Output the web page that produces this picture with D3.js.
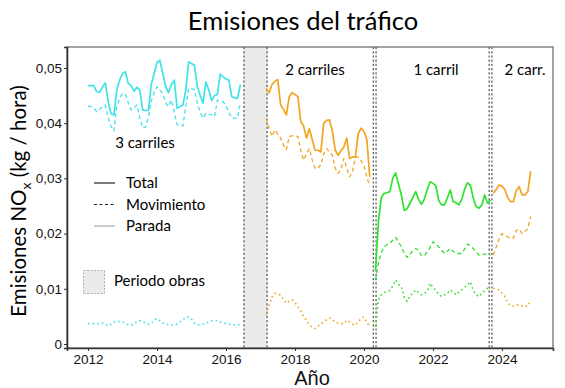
<!DOCTYPE html>
<html>
<head>
<meta charset="utf-8">
<script src="https://cdn.jsdelivr.net/npm/d3@7"></script>
<style>
  body { margin: 0; background: #fff; }
  svg { display: block; }
</style>
</head>
<body>
<svg id="chart" width="565" height="388"></svg>
<script>
// ---- data (monthly values, kg/hora) ----
var periodLabels = ["3 carriles", "2 carriles", "1 carril", "2 carr."];
var periodStart = [[2012, 1], [2017, 3], [2020, 5], [2023, 10]]; // year, month of first value

var total3 = [.0468, .0468, .0468, .0457, .0456, .0465, .0473, .0440, .0417, .0415, .0460, .0478,
  .0490, .0493, .0472, .0468, .0458, .0465, .0460, .0424, .0423, .0423, .0470, .0490,
  .0510, .0514, .0490, .0467, .0455, .0470, .0478, .0427, .0430, .0433, .0460, .0511,
  .0508, .0505, .0467, .0450, .0436, .0475, .0460, .0441, .0450, .0452, .0489, .0484,
  .0480, .0478, .0448, .0446, .0445, .0470];
var mov3 = [.0431, .0430, .0428, .0421, .0425, .0430, .0433, .0410, .0394, .0386, .0430, .0445,
  .0454, .0452, .0437, .0424, .0428, .0433, .0410, .0391, .0393, .0410, .0440, .0455,
  .0466, .0460, .0454, .0437, .0430, .0442, .0420, .0397, .0396, .0395, .0430, .0463,
  .0462, .0461, .0437, .0420, .0409, .0418, .0416, .0415, .0412, .0442, .0440, .0439,
  .0432, .0420, .0409, .0409, .0409, .0437];
var parada3 = [.0037, .0037, .0037, .0036, .0037, .0038, .0035, .0033, .0036, .0040, .0040, .0041,
  .0040, .0038, .0035, .0034, .0036, .0040, .0042, .0041, .0038, .0036, .0037, .0044,
  .0046, .0042, .0038, .0037, .0035, .0034, .0036, .0036, .0040, .0044, .0048, .0049,
  .0045, .0038, .0035, .0035, .0036, .0038, .0040, .0042, .0043, .0042, .0040, .0038,
  .0037, .0036, .0035, .0035, .0035, .0035];

var total2 = [.0463, .0455, .0470, .0476, .0479, .0433, .0425, .0415, .0448, .0455, .0452, .0448,
  .0403, .0395, .0373, .0390, .0370, .0351, .0351, .0348, .0400, .0405, .0406, .0385,
  .0351, .0342, .0350, .0357, .0373, .0336, .0339, .0339, .0381, .0391, .0385, .0370, .0303];
var mov2 = [.0409, .0391, .0376, .0388, .0380, .0373, .0360, .0352, .0376, .0377, .0377, .0376,
  .0351, .0333, .0345, .0354, .0333, .0318, .0318, .0325, .0345, .0354, .0348, .0342,
  .0318, .0309, .0318, .0336, .0318, .0303, .0312, .0338, .0339, .0332, .0324, .0303, .0285];
var parada2 = [.0053, .0070, .0085, .0092, .0090, .0089, .0080, .0074, .0078, .0080, .0075, .0068,
  .0060, .0050, .0043, .0035, .0030, .0028, .0032, .0037, .0040, .0044, .0047, .0045,
  .0039, .0038, .0037, .0037, .0043, .0040, .0036, .0034, .0040, .0046, .0049, .0040, .0031];

var total1 = [.0134, .0220, .0265, .0273, .0274, .0276, .0300, .0310, .0290, .0270, .0242, .0245,
  .0255, .0265, .0276, .0262, .0253, .0262, .0280, .0294, .0291, .0287, .0260, .0252,
  .0252, .0265, .0279, .0258, .0256, .0252, .0262, .0280, .0292, .0288, .0265, .0249,
  .0246, .0252, .0270, .0255, .0261];
var mov1 = [.0116, .0146, .0165, .0176, .0180, .0182, .0188, .0193, .0185, .0176, .0165, .0157,
  .0162, .0170, .0173, .0170, .0160, .0160, .0167, .0175, .0185, .0182, .0176, .0170,
  .0164, .0168, .0173, .0168, .0164, .0164, .0164, .0172, .0181, .0178, .0173, .0167,
  .0161, .0162, .0163, .0163, .0161];
var parada1 = [.0031, .0080, .0089, .0093, .0095, .0097, .0105, .0116, .0108, .0104, .0085, .0077,
  .0088, .0092, .0098, .0093, .0089, .0092, .0095, .0110, .0102, .0098, .0090, .0086,
  .0089, .0092, .0098, .0094, .0089, .0094, .0098, .0103, .0107, .0113, .0097, .0089,
  .0086, .0092, .0097, .0101, .0098];

var total2b = [.0273, .0280, .0288, .0286, .0280, .0265, .0258, .0258, .0278, .0285, .0270, .0270, .0276, .0313];
var mov2b = [.0161, .0175, .0190, .0200, .0197, .0194, .0191, .0192, .0206, .0208, .0200, .0204, .0209, .0231];
var parada2b = [.0101, .0100, .0098, .0092, .0086, .0075, .0069, .0069, .0071, .0071, .0069, .0069, .0068, .0080];

var obras = [2016.52, 2017.19];                 // construction period (decimal years)
var cambios = [2020.27, 2020.35, 2023.63, 2023.71]; // extra dashed markers
var xTicks = [2012, 2014, 2016, 2018, 2020, 2022, 2024];
var yTicks = [0, 0.01, 0.02, 0.03, 0.04, 0.05];

// ---- layout ----
var svg = d3.select("#chart");
var margin = {left: 67, right: 12, top: 47, bottom: 40};
var W = 565, H = 388;

var x = d3.scaleLinear().domain([2011.39, 2025.48]).range([margin.left, W - margin.right]);
var y = d3.scaleLinear().domain([-0.00072, 0.0538]).range([H - margin.bottom, margin.top]);

var colors = ["#3fe3e8", "#f3a421", "#2ee22e", "#f3a421"];
var sets = [
  [total3, mov3, parada3],
  [total2, mov2, parada2],
  [total1, mov1, parada1],
  [total2b, mov2b, parada2b]
];
var styles = [
  {dash: null, width: 1.7},
  {dash: "4,3", width: 1.3},
  {dash: "1.6,3", width: 1.6}
];

var font = "Lato, 'Noto Sans', sans-serif";
var axisFont = "'Liberation Sans', Arial, sans-serif";

// construction period
svg.append("rect")
  .attr("x", x(obras[0]))
  .attr("y", margin.top)
  .attr("width", x(obras[1]) - x(obras[0]))
  .attr("height", H - margin.bottom - margin.top)
  .attr("fill", "#ebebeb");

// vertical dashed lines
svg.append("g").selectAll("line")
  .data(obras.concat(cambios))
  .join("line")
  .attr("x1", function(d) { return x(d); })
  .attr("x2", function(d) { return x(d); })
  .attr("y1", margin.top)
  .attr("y2", H - margin.bottom)
  .attr("stroke", "#444")
  .attr("stroke-width", 1.1)
  .attr("stroke-dasharray", "2.2,2");

// series lines
var line = d3.line()
  .x(function(d) { return x(d.t); })
  .y(function(d) { return y(d.v); });

sets.forEach(function(group, i) {
  var start = periodStart[i][0] + (periodStart[i][1] - 1) / 12;
  group.forEach(function(vals, k) {
    var pts = vals.map(function(v, m) { return {t: start + m / 12, v: v}; });
    svg.append("path")
      .datum(pts)
      .attr("d", line)
      .attr("fill", "none")
      .attr("stroke", colors[i])
      .attr("stroke-width", styles[k].width)
      .attr("stroke-linejoin", "round")
      .attr("stroke-dasharray", styles[k].dash);
  });
});

// frame
svg.append("rect")
  .attr("x", margin.left)
  .attr("y", margin.top)
  .attr("width", W - margin.right - margin.left)
  .attr("height", H - margin.bottom - margin.top)
  .attr("fill", "none")
  .attr("stroke", "#666")
  .attr("stroke-width", 1.2);

// axes
var locale = d3.formatLocale({decimal: ",", thousands: ".", grouping: [3], currency: ["", "€"]});
var fmt = locale.format(".2f");

var yAxis = svg.append("g")
  .attr("transform", "translate(" + margin.left + ",0)")
  .call(d3.axisLeft(y).tickValues(yTicks).tickSize(3).tickPadding(2)
    .tickFormat(function(d) { return d === 0 ? "0" : fmt(d); }));
var xAxis = svg.append("g")
  .attr("transform", "translate(0," + (H - margin.bottom) + ")")
  .call(d3.axisBottom(x).tickValues(xTicks).tickSize(3).tickPadding(3).tickFormat(d3.format("d")));

[yAxis, xAxis].forEach(function(g) {
  g.select(".domain").attr("stroke", "#333").attr("stroke-width", 1.6);
  g.selectAll(".tick line").attr("stroke", "#333");
  g.selectAll(".tick text").attr("fill", "#111").style("font-family", axisFont).style("font-size", "13.5px");
});

// titles
svg.append("text")
  .attr("x", 303).attr("y", 30)
  .attr("text-anchor", "middle")
  .style("font-family", font).style("font-size", "25.5px")
  .text("Emisiones del tráfico");

svg.append("text")
  .attr("x", 312).attr("y", 385)
  .attr("text-anchor", "middle")
  .style("font-family", axisFont).style("font-size", "20px")
  .attr("fill", "#111")
  .text("Año");

var yl = svg.append("text")
  .attr("transform", "translate(26,201) rotate(-90)")
  .attr("text-anchor", "middle")
  .style("font-family", font).style("font-size", "20.5px");
yl.append("tspan").text("Emisiones NO");
yl.append("tspan").text("x").attr("dy", 5).style("font-size", "14px");
yl.append("tspan").text(" (kg / hora)").attr("dy", -5);

// period labels
var labelPos = [[145, 148], [315, 75], [436, 75], [525, 75]];
svg.append("g").selectAll("text")
  .data(periodLabels)
  .join("text")
  .attr("x", function(d, i) { return labelPos[i][0]; })
  .attr("y", function(d, i) { return labelPos[i][1]; })
  .attr("text-anchor", "middle")
  .style("font-family", font).style("font-size", "15px")
  .text(function(d) { return d; });

// legend
var legendNames = ["Total", "Movimiento", "Parada"];
var legendColors = ["#222", "#222", "#aaa"];
var leg = svg.append("g");
legendNames.forEach(function(name, k) {
  var ly = 183 + k * 21.5;
  leg.append("line")
    .attr("x1", 94).attr("x2", 115).attr("y1", ly).attr("y2", ly)
    .attr("stroke", legendColors[k])
    .attr("stroke-width", 1.2)
    .attr("stroke-dasharray", k === 1 ? "3,2.5" : null);
  leg.append("text")
    .attr("x", 126).attr("y", ly + 5)
    .style("font-family", font).style("font-size", "15px")
    .text(name);
});
leg.append("rect")
  .attr("x", 83.5).attr("y", 270.5).attr("width", 21).attr("height", 23)
  .attr("fill", "#ebebeb").attr("stroke", "#999").attr("stroke-width", 0.8)
  .attr("stroke-dasharray", "2,1.5");
leg.append("text")
  .attr("x", 114).attr("y", 286)
  .style("font-family", font).style("font-size", "15px")
  .text("Periodo obras");
</script>
</body>
</html>
